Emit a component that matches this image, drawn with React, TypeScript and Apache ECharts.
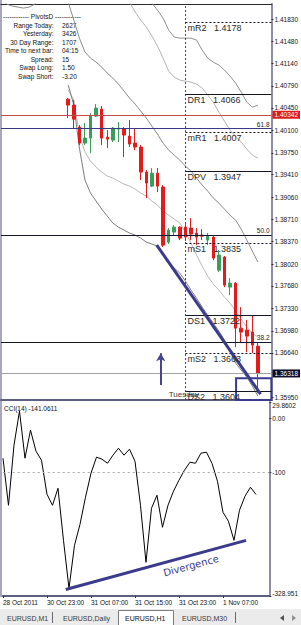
import React, { useEffect, useRef } from 'react';
import * as echarts from 'echarts';

// ---------------- data ----------------
const timeTickBars = [0, 8, 16, 24, 32, 40];
const timeTickLabels = ['28 Oct 2011', '30 Oct 23:00', '31 Oct 07:00', '31 Oct 15:00', '31 Oct 23:00', '1 Nov 07:00'];

const priceTicks = [1.4183, 1.4148, 1.4114, 1.4079, 1.4045, 1.401, 1.3975, 1.3941, 1.3906, 1.3871, 1.3837, 1.3802, 1.3768, 1.3733, 1.3698, 1.3664, 1.3595];
const cciTicks = [29.8602, 0, -100, -328.951];
const cciTickLabels = ['29.8602', '0.00', '-100', '-328.951'];

const firstCandleBar = 12;
const opens = [1.40585, 1.40492, 1.4015, 1.39901, 1.39979, 1.40321, 1.4043, 1.39994, 1.39948, 1.40119, 1.40119, 1.4001, 1.39901, 1.39839, 1.3945, 1.39232, 1.39434, 1.39217, 1.38361, 1.38517, 1.38594, 1.38594, 1.38579, 1.38501, 1.3847, 1.38392, 1.38439, 1.37925, 1.38128, 1.37661, 1.37723, 1.37023, 1.36992, 1.36961, 1.36743];
const closes = [1.40492, 1.40274, 1.39901, 1.39979, 1.40321, 1.40446, 1.39979, 1.39963, 1.40134, 1.40134, 1.40026, 1.39886, 1.39839, 1.3945, 1.39279, 1.39434, 1.39232, 1.38314, 1.38548, 1.38594, 1.38423, 1.38439, 1.38486, 1.38439, 1.38454, 1.38454, 1.38112, 1.38159, 1.37692, 1.37723, 1.37023, 1.36961, 1.36899, 1.36759, 1.36318];
const lows = [1.4029, 1.40134, 1.3987, 1.3987, 1.39746, 1.40306, 1.3987, 1.39823, 1.39917, 1.39917, 1.39683, 1.39839, 1.39792, 1.39326, 1.39046, 1.39217, 1.39139, 1.38283, 1.3833, 1.38454, 1.38392, 1.38377, 1.38392, 1.38314, 1.38392, 1.38314, 1.38081, 1.37894, 1.37661, 1.37537, 1.36728, 1.3679, 1.3665, 1.36634, 1.3601];
const highs = [1.40601, 1.4057, 1.40181, 1.40212, 1.40368, 1.40508, 1.40477, 1.40103, 1.4015, 1.40228, 1.4015, 1.40259, 1.40119, 1.3987, 1.39481, 1.39512, 1.39512, 1.39248, 1.38579, 1.38626, 1.3861, 1.38641, 1.38734, 1.38579, 1.38563, 1.38501, 1.38454, 1.38237, 1.38143, 1.37801, 1.37739, 1.3735, 1.37148, 1.37225, 1.3679];

const cciValues = [-74.1, -161.2, -50.0, 13.0, -74.1, -22.2, -61.1, -77.8, -140.8, -161.2, -129.7, -226.0, -314.9, -235.3, -196.4, -146.3, -101.9, -72.2, -75.9, -83.4, -68.5, -55.6, -68.5, -57.4, -79.7, -161.2, -266.7, -166.7, -142.6, -201.9, -161.2, -135.2, -114.8, -96.3, -81.5, -83.4, -64.8, -63.0, -83.4, -116.7, -174.1, -190.8, -226.0, -170.4, -144.5, -127.8, -141.0611];

const bandAStart = 24;
const bandA = [1.42561, 1.42359, 1.42203, 1.42079, 1.4197, 1.41846, 1.41659, 1.4155, 1.41534, 1.41534, 1.41534, 1.41503, 1.41348, 1.41223, 1.41161, 1.41114, 1.41037, 1.40943, 1.40834, 1.40694, 1.40539, 1.40461, 1.40492];
const bandBStart = 22;
const bandB = [1.42281, 1.42094, 1.41939, 1.41814, 1.41706, 1.41566, 1.4141, 1.41223, 1.41021, 1.40928, 1.40881, 1.40866, 1.4085, 1.40819, 1.40757, 1.40648, 1.40539, 1.40383, 1.40243, 1.40103, 1.4001, 1.39917, 1.39808, 1.39714, 1.39668];
const bandCStart = 0;
const bandC = [1.42157, 1.42063, 1.42032, 1.42017, 1.42001, 1.42017, 1.42063, 1.42157, 1.4225, 1.42312, 1.42312, 1.4225, 1.42094, 1.41814, 1.41534, 1.41317, 1.41223, 1.41161, 1.41083, 1.4099, 1.40912, 1.40819, 1.4071, 1.40601, 1.40508, 1.40399, 1.4029, 1.40166, 1.40041, 1.39901, 1.39792, 1.39714, 1.39637, 1.39543, 1.39466, 1.39357, 1.39248, 1.39154, 1.39046, 1.38968, 1.38874, 1.38781, 1.38703, 1.38563, 1.38392, 1.38221, 1.3805];
const bandDStart = 12;
const bandD = [1.40726, 1.4057, 1.40026, 1.39761, 1.39621, 1.39528, 1.3945, 1.39388, 1.39357, 1.3931, 1.39263, 1.39232, 1.39186, 1.39123, 1.39077, 1.38999, 1.38937, 1.38843, 1.38781, 1.38719, 1.38657, 1.38517, 1.38346, 1.38159, 1.37988, 1.37832, 1.37708, 1.37614, 1.37505, 1.37412, 1.37288, 1.37163, 1.37039, 1.36945, 1.36883];
const bandEStart = 12;
const bandE = [1.40803, 1.40492, 1.39823, 1.39326, 1.39123, 1.38999, 1.38874, 1.38766, 1.38657, 1.38594, 1.38548, 1.38501, 1.3847, 1.38423, 1.38361, 1.3833, 1.38299, 1.38174, 1.38034, 1.37957, 1.37879, 1.37754, 1.37614, 1.3749, 1.3735, 1.37225, 1.37101, 1.36977, 1.36837, 1.3665, 1.36479, 1.3637, 1.36261, 1.36121, 1.35965];

const pivotNames = ['mR2', 'DR1', 'mR1', 'DPV', 'mS1', 'DS1', 'mS2', 'DS2'];
const pivotLevels = [1.4178, 1.4066, 1.4007, 1.3947, 1.3835, 1.3722, 1.3663, 1.3604];
const fibNames = ['61.8', '50.0', '38.2'];
const fibLevels = [1.40127, 1.38467, 1.36801];
const alertPrice = 1.40342;
const bidPrice = 1.36318;
const sessionStartBar = 33;
const dayName = 'Tuesday';
const dayLabelPoint = [30.0, 1.35997];
const trendLinePoints = [[27.86, 1.38314], [46.47, 1.35997]];
const lowBoxCorners = [[42.08, 1.36242], [48.4, 1.35906]];
const arrowPoints = [[28.58, 1.36137], [28.58, 1.36634]];
const divergencePoints = [[11.41, -316.8], [44.2, -226.0]];
const divergenceText = 'Divergence';
const cciPeriod = 14;
const cciLevel = -100;

const infoTitle = 'PivotsD';
const infoLabels = ['Range Today:', 'Yesterday:', '30 Day Range:', 'Time to next bar:', 'Spread:', 'Swap Long:', 'Swap Short:'];
const infoValues = ['2627', '3426', '1707', '04:15', '15', '1.50', '-3.20'];
const tabNames = ['EURUSD,M1', 'EURUSD,Daily', 'EURUSD,H1', 'EURUSD,M30'];
const activeTab = 2;

// ---------------- layout / style ----------------
const FONT = 'Liberation Sans';
const NAVY = '#3b3b8e';
const X_MIN = -0.05;
const X_MAX = 48.43;
const P_MIN = 1.35905;
const P_MAX = 1.42065;
const C_MIN = -328.951;
const C_MAX = 29.8602;

function seriesFrom(start: number, arr: number[]) {
  return arr.map((v, k) => [start + k, v]);
}

function buildOption() {
  const candleData = opens.map((o, k) => [firstCandleBar + k, o, closes[k], lows[k], highs[k]]);
  const bandStyle = (name: string, start: number, arr: number[], color: string) => ({
    name,
    type: 'line',
    xAxisIndex: 0,
    yAxisIndex: 0,
    data: seriesFrom(start, arr),
    symbol: 'none',
    silent: true,
    lineStyle: { color, width: 1 },
    z: 2,
  });

  const lerp = (t: number) => [
    divergencePoints[0][0] + (divergencePoints[1][0] - divergencePoints[0][0]) * t,
    divergencePoints[0][1] + (divergencePoints[1][1] - divergencePoints[0][1]) * t,
  ];

  const priceBox = (value: number, bg: string, lineColor: string) => ({
    yAxis: value,
    lineStyle: { color: lineColor, width: 1, type: 'solid' },
    label: {
      show: true,
      position: 'end',
      formatter: value.toFixed(5),
      color: '#ffffff',
      backgroundColor: bg,
      padding: [1, 2, 0, 2],
      fontSize: 6.5,
      fontFamily: FONT,
      distance: 1,
    },
  });

  const mainMarkLines: any[] = [
    priceBox(alertPrice, '#e01b1b', '#c94a4a'),
    priceBox(bidPrice, '#0d0d26', '#a3a3a3'),
    ...fibLevels.map((p, k) => ({
      yAxis: p,
      lineStyle: { color: k === 0 ? '#3a3a84' : '#14142c', width: 1, type: 'solid' },
      label: {
        show: true,
        position: 'insideEndTop',
        formatter: fibNames[k],
        fontSize: 6.5,
        fontFamily: FONT,
        color: '#1a1a1a',
        distance: [2, 1],
      },
    })),
    {
      xAxis: sessionStartBar,
      lineStyle: { color: '#4a4a4a', width: 1, type: [2, 2] },
      label: { show: false },
    },
    ...pivotLevels.map((p, k) => [
      {
        coord: [sessionStartBar, p],
        lineStyle: {
          color: '#151528',
          width: 1,
          type: pivotNames[k].startsWith('m') ? [2, 2] : 'solid',
        },
        label: {
          show: true,
          position: 'insideStartBottom',
          formatter: `${pivotNames[k]}   ${p.toFixed(4)}`,
          fontSize: 9,
          fontFamily: FONT,
          color: '#2a2a2a',
          distance: [2, 1.5],
        },
      },
      { coord: [48.4, p] },
    ]),
    [
      { coord: trendLinePoints[0], lineStyle: { color: NAVY, width: 3, type: 'solid' }, label: { show: false } },
      { coord: trendLinePoints[1] },
    ],
    [
      {
        coord: arrowPoints[0],
        symbol: 'none',
        lineStyle: { color: '#45458f', width: 2, type: 'solid' },
        label: { show: false },
      },
      { coord: arrowPoints[1], symbol: 'arrow', symbolSize: [7, 8] },
    ],
  ];

  const graphics: any[] = [];
  const txt = (x: number, y: number, text: string, align: string, size: number, fill = '#111111') => ({
    type: 'text',
    silent: true,
    x,
    y,
    style: {
      text,
      fill,
      font: `${size}px "${FONT}"`,
      textAlign: align,
      textVerticalAlign: 'middle',
      align,
      verticalAlign: 'middle',
    },
  });

  graphics.push({ type: 'line', silent: true, shape: { x1: 1, y1: 0, x2: 1, y2: 597 }, style: { stroke: '#a7a7bd', lineWidth: 2 } });
  graphics.push(txt(42, 16, `------------ ${infoTitle} ------------`, 'center', 6.5));
  infoLabels.forEach((t, k) => {
    graphics.push(txt(53.5, 25 + k * 8.5, t, 'right', 6.5));
    graphics.push(txt(62, 25 + k * 8.5, infoValues[k], 'left', 6.5));
  });
  graphics.push(txt(4, 408, `CCI(${cciPeriod}) ${cciValues[cciValues.length - 1].toFixed(4)}`, 'left', 6.5));

  // tab bar
  graphics.push({ type: 'rect', silent: true, shape: { x: 0, y: 609, width: 301, height: 16 }, style: { fill: '#ebebeb' } });
  const tabX = [7, 63, 125, 182];
  graphics.push({
    type: 'rect',
    silent: true,
    shape: { x: 118.5, y: 610.5, width: 55, height: 15 },
    style: { fill: '#ffffff', stroke: '#7c7c7c', lineWidth: 1 },
  });
  tabNames.forEach((t, k) => {
    graphics.push(txt(tabX[k], 618, t, 'left', 7, k === activeTab ? '#111111' : '#3a3a3a'));
  });
  [52.5, 235.5].forEach((x) => {
    graphics.push({ type: 'line', silent: true, shape: { x1: x, y1: 612, x2: x, y2: 623 }, style: { stroke: '#6a6a6a', lineWidth: 1 } });
  });
  graphics.push({ type: 'polygon', silent: true, shape: { points: [[280, 618], [284, 615], [284, 621]] }, style: { fill: '#505050' } });
  graphics.push({ type: 'polygon', silent: true, shape: { points: [[296, 618], [292, 615], [292, 621]] }, style: { fill: '#909090' } });

  return {
    animation: false,
    backgroundColor: '#ffffff',
    textStyle: { fontFamily: FONT },
    grid: [
      { left: 1, right: 29, top: 4, height: 396 },
      { left: 1, right: 29, top: 402, height: 194 },
    ],
    xAxis: [
      {
        gridIndex: 0,
        type: 'value',
        min: X_MIN,
        max: X_MAX,
        position: 'bottom',
        axisLine: { show: true, onZero: false, lineStyle: { color: '#5e5e82', width: 2 } },
        axisTick: { show: false },
        axisLabel: { show: false },
        splitLine: { show: false },
      },
      {
        gridIndex: 0,
        type: 'value',
        min: X_MIN,
        max: X_MAX,
        position: 'top',
        axisLine: { show: true, onZero: false, lineStyle: { color: '#2a2a2a', width: 1 } },
        axisTick: { show: false },
        axisLabel: { show: false },
        splitLine: { show: false },
      },
      {
        gridIndex: 1,
        type: 'value',
        min: X_MIN,
        max: X_MAX,
        position: 'bottom',
        axisLine: { show: true, onZero: false, lineStyle: { color: '#5e5e82', width: 2 } },
        axisTick: { show: true, customValues: timeTickBars, length: 2, lineStyle: { color: '#333' } },
        axisLabel: {
          show: true,
          customValues: timeTickBars,
          formatter: (v: number) => {
            const k = timeTickBars.indexOf(Math.round(v));
            return k >= 0 ? timeTickLabels[k] : '';
          },
          fontSize: 6.5,
          fontFamily: FONT,
          color: '#111',
          align: 'left',
          margin: 3,
        },
        splitLine: { show: false },
      },
    ],
    yAxis: [
      {
        gridIndex: 0,
        type: 'value',
        position: 'right',
        min: P_MIN,
        max: P_MAX,
        axisLine: { show: true, onZero: false, lineStyle: { color: '#8d8da8', width: 2 } },
        axisTick: { show: true, customValues: priceTicks, length: 2, lineStyle: { color: '#333' } },
        axisLabel: {
          show: true,
          customValues: priceTicks,
          formatter: (v: number) => v.toFixed(5),
          fontSize: 6.5,
          fontFamily: FONT,
          color: '#111',
          margin: 3,
        },
        splitLine: { show: false },
      },
      {
        gridIndex: 1,
        type: 'value',
        position: 'right',
        min: C_MIN,
        max: C_MAX,
        axisLine: { show: true, onZero: false, lineStyle: { color: '#8d8da8', width: 2 } },
        axisTick: { show: true, customValues: cciTicks, length: 2, lineStyle: { color: '#333' } },
        axisLabel: {
          show: true,
          customValues: cciTicks,
          formatter: (v: number) => {
            let best = 0;
            cciTicks.forEach((t, k) => {
              if (Math.abs(t - v) < Math.abs(cciTicks[best] - v)) best = k;
            });
            if (best === 0) return `{top|${cciTickLabels[best]}}`;
            if (best === cciTicks.length - 1) return `{bot|${cciTickLabels[best]}}`;
            return cciTickLabels[best];
          },
          rich: {
            top: { fontSize: 6.5, fontFamily: FONT, color: '#111', padding: [7, 0, 0, 0] },
            bot: { fontSize: 6.5, fontFamily: FONT, color: '#111', padding: [0, 0, 6, 0] },
          },
          fontSize: 6.5,
          fontFamily: FONT,
          color: '#111',
          margin: 3,
        },
        splitLine: { show: false },
      },
    ],
    series: [
      bandStyle('bandC', bandCStart, bandC, '#8a8a8a'),
      bandStyle('bandA', bandAStart, bandA, '#8f8f8f'),
      bandStyle('bandB', bandBStart, bandB, '#b3b3b3'),
      bandStyle('bandD', bandDStart, bandD, '#b8b8b8'),
      bandStyle('bandE', bandEStart, bandE, '#7d7d7d'),
      {
        name: 'EURUSD',
        type: 'candlestick',
        xAxisIndex: 0,
        yAxisIndex: 0,
        data: candleData,
        barWidth: 3,
        silent: true,
        z: 3,
        itemStyle: {
          color: '#3a9d5a',
          color0: '#e31b1b',
          borderColor: '#3a9d5a',
          borderColor0: '#e31b1b',
          borderWidth: 1,
        },
      },
      {
        name: 'objects',
        type: 'line',
        xAxisIndex: 0,
        yAxisIndex: 0,
        data: [],
        clip: false,
        silent: true,
        z: 4,
        markLine: {
          symbol: ['none', 'none'],
          silent: true,
          animation: false,
          precision: 6,
          data: mainMarkLines,
        },
        markArea: {
          silent: true,
          itemStyle: { color: 'rgba(0,0,0,0)', borderColor: NAVY, borderWidth: 2 },
          label: { show: false },
          data: [[{ coord: lowBoxCorners[0] }, { coord: lowBoxCorners[1] }]],
        },
      },
      {
        name: 'dayLabel',
        type: 'custom',
        xAxisIndex: 0,
        yAxisIndex: 0,
        silent: true,
        z: 5,
        data: [dayLabelPoint],
        renderItem: (_params: any, api: any) => {
          const p = api.coord([api.value(0), api.value(1)]);
          return {
            type: 'text',
            x: p[0],
            y: p[1],
            style: {
              text: dayName,
              fill: '#3a3a3a',
              font: `8px "${FONT}"`,
              textAlign: 'left',
              textVerticalAlign: 'middle',
              align: 'left',
              verticalAlign: 'middle',
            },
          };
        },
      },
      {
        name: `CCI(${cciPeriod})`,
        type: 'line',
        xAxisIndex: 2,
        yAxisIndex: 1,
        data: cciValues.map((v, i) => [i, v]),
        symbol: 'none',
        silent: true,
        lineStyle: { color: '#000000', width: 1 },
        z: 3,
        markLine: {
          symbol: ['none', 'none'],
          silent: true,
          animation: false,
          precision: 6,
          data: [
            { yAxis: cciLevel, lineStyle: { color: '#a9a9a9', width: 1, type: [2, 3] }, label: { show: false } },
            [
              { coord: divergencePoints[0], lineStyle: { color: NAVY, width: 3, type: 'solid' }, label: { show: false } },
              { coord: divergencePoints[1] },
            ],
            [
              {
                coord: lerp(0.6),
                lineStyle: { color: 'rgba(0,0,0,0)', width: 0 },
                label: {
                  show: true,
                  position: 'insideMiddleBottom',
                  formatter: divergenceText,
                  color: NAVY,
                  fontSize: 10,
                  fontFamily: 'DejaVu Sans',
                  distance: 5,
                },
              },
              { coord: lerp(0.76) },
            ],
          ],
        },
      },
    ],
    graphic: graphics,
  };
}

export default function App() {
  const ref = useRef<HTMLDivElement>(null);
  useEffect(() => {
    document.body.style.margin = '0';
    const chart = echarts.init(ref.current as HTMLDivElement, null, { renderer: 'svg' });
    chart.setOption(buildOption() as any);
    return () => chart.dispose();
  }, []);
  return <div ref={ref} style={{ width: 301, height: 625, background: '#ffffff' }} />;
}
